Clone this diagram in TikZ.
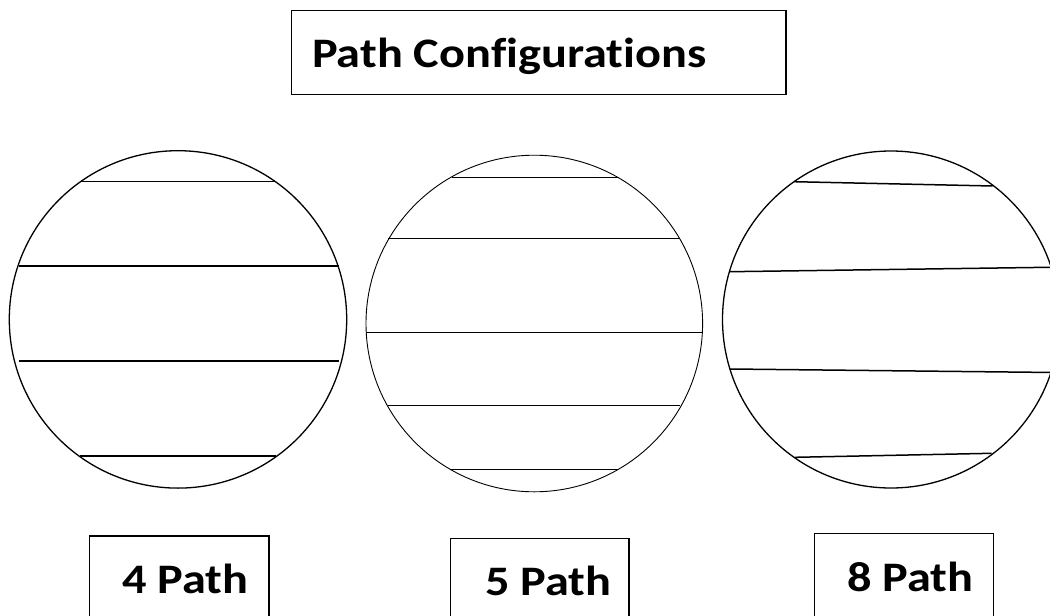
\documentclass[tikz,border=0pt]{standalone}
\usepackage{graphicx}
\usepackage{fontspec}
\setmainfont[Ligatures=NoCommon]{Carlito}
\newcommand{\widetext}[1]{\scalebox{1.15}[1]{#1}}
\begin{document}
\begin{tikzpicture}[x=1pt,y=-1pt,
  frame/.style={draw=black,line width=1.4pt},
  disc/.style={draw=black,line width=1.3pt},
  thindisc/.style={draw=black,line width=0.9pt},
  chord/.style={draw=black,line width=1.5pt},
  caption/.style={anchor=base west,inner sep=0pt,font=\fontsize{42}{46}\selectfont\bfseries}]
\useasboundingbox (0,0) rectangle (1050,616);
\clip (0,0) rectangle (1050,616);

% title
\draw[frame] (291.5,10.5) rectangle (786,94.5);
\node[caption] (title) at (312,67) {\widetext{Path Configurations}};

% four paths
\draw[disc] (178,319.4) circle (168.7);
\draw[chord] (80,181.7) -- (276,181.7);
\draw[chord] (18.7,266) -- (339,266);
\draw[chord] (18.7,361) -- (339,361);
\draw[chord] (80,456) -- (276,456);

% five paths
\draw[thindisc] (534.3,323.5) circle (168.3);
\draw[chord] (452,177.3) -- (618,177.3);
\draw[chord] (388,238.7) -- (680,238.7);
\draw[chord] (366,332.3) -- (702.7,332.3);
\draw[chord] (388,405.7) -- (680,405.7);
\draw[chord] (451,469.3) -- (618,469.3);

% eight paths
\draw[disc] (891,319.5) circle (168.5);
\draw[chord] (794,181.7) -- (992.7,186);
\draw[chord] (730,271.7) -- (1055,267.2);
\draw[chord] (730,369) -- (1055,372.5);
\draw[chord] (795,457.3) -- (991.7,453.3);

% captions
\draw[frame] (89.3,536) rectangle (269,640);
\node[caption] (four) at (122,593) {\widetext{4 Path}};
\draw[frame] (450.7,538.3) rectangle (629,640);
\node[caption] (five) at (485,595) {\widetext{5 Path}};
\draw[frame] (814.7,533.3) rectangle (993.3,640);
\node[caption] (eight) at (847,591) {\widetext{8 Path}};
\end{tikzpicture}
\end{document}
